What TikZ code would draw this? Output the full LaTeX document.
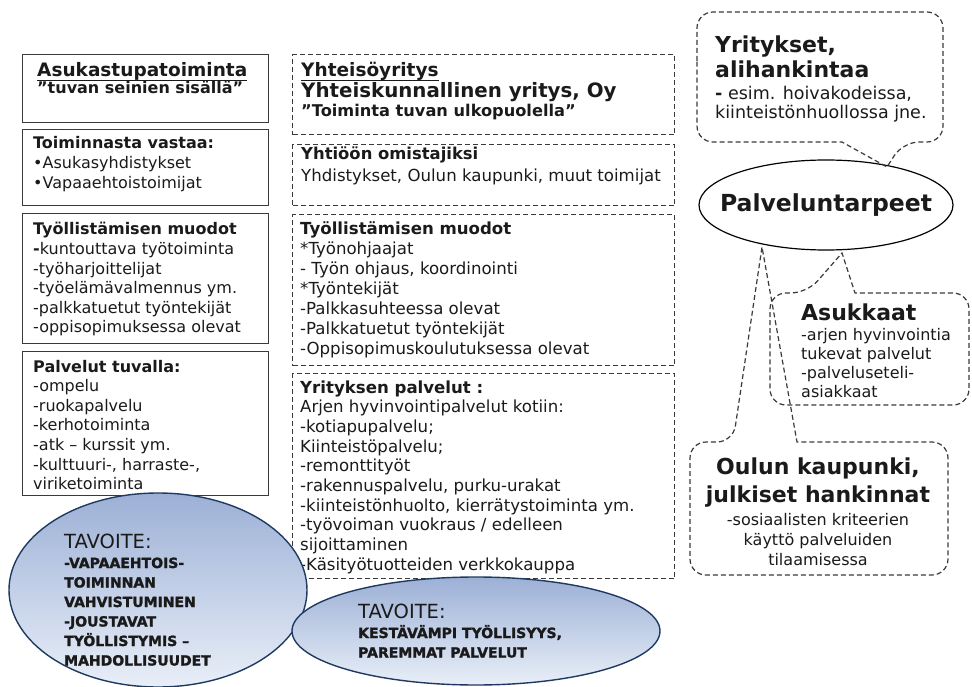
\documentclass[tikz,border=0pt]{standalone}
\usepackage{fontspec}
\setmainfont{DejaVu Sans}
\newfontfamily\heavyfont{DejaVu Sans}[BoldFeatures={FakeBold=1.6}]
\usetikzlibrary{shapes.geometric}

\definecolor{ink}{HTML}{1A1A1A}
\definecolor{boxline}{HTML}{3A3A3A}
\definecolor{navy}{HTML}{1F3A60}
\definecolor{goaltop}{HTML}{9CB0D6}
\definecolor{goalbot}{HTML}{E9EFF8}

\newcommand\sz[2]{\fontsize{#1}{#2}\selectfont}
\newcommand\ulinetext[1]{\setbox0=\hbox{#1}\rlap{\rule[-4pt]{\wd0}{1.4pt}}\box0}
% line stacks whose baseline is the baseline of their first line
\newcommand\stackL[1]{\vtop{\let\\\cr\halign{##\hfil\cr#1\crcr}}}
\newcommand\stackC[1]{\vtop{\let\\\cr\halign{\hfil##\hfil\cr#1\crcr}}}

\tikzset{
  txt/.style={inner sep=0pt, anchor=base west, text=ink, font=\sz{16}{19.6}},
  midtxt/.style={txt, font=\sz{16.6}{19.9}},
  solidbox/.style={draw=boxline, line width=1.3pt, inner sep=0pt, anchor=north west},
  dashbox/.style={draw=boxline, line width=1.2pt, dash pattern=on 5pt off 3pt, inner sep=0pt, anchor=north west},
  goal/.style={ellipse, draw=navy, line width=1.4pt, top color=goaltop, bottom color=goalbot, inner sep=0pt},
  goalhead/.style={inner sep=0pt, anchor=base west, text=ink, font=\sz{19.5}{23}},
  goaltext/.style={inner sep=0pt, anchor=base west, text=ink, font=\heavyfont\bfseries\sz{14}{19.5}},
  callout/.style={draw=boxline, line width=1.2pt, dash pattern=on 5pt off 3pt},
}

\begin{document}
\begin{tikzpicture}[x=1pt,y=-1pt]
\useasboundingbox (0,0) rectangle (972,687);

% ---------- left column: resident room activity ----------
\node[solidbox, minimum width=246pt, minimum height=68pt]  (lb1) at (22,54)  {};
\node[solidbox, minimum width=246pt, minimum height=76pt]  (lb2) at (22,129) {};
\node[solidbox, minimum width=246pt, minimum height=130pt] (lb3) at (22,213) {};
\node[solidbox, minimum width=246pt, minimum height=144pt] (lb4) at (22,351) {};

\node[txt, font=\bfseries\sz{18.5}{22}] (lt1a) at (37,77) {\ulinetext{Asukastupatoiminta}};
\node[txt, font=\bfseries\sz{16}{19}] (lt1b) at (37,94) {”tuvan seinien sisällä”};

\node[txt] (lt2) at (33,149) {\stackL{\textbf{Toiminnasta vastaa:}\\•Asukasyhdistykset\\•Vapaaehtoistoimijat}};

\node[txt] (lt3) at (33,235) {\stackL{\textbf{Työllistämisen muodot}\\\textbf{-}kuntouttava työtoiminta\\-työharjoittelijat\\-työelämävalmennus ym.\\-palkkatuetut työntekijät\\-oppisopimuksessa olevat}};

\node[txt] (lt4) at (33,372) {\stackL{\textbf{Palvelut tuvalla:}\\-ompelu\\-ruokapalvelu\\-kerhotoiminta\\-atk – kurssit ym.\\-kulttuuri-, harraste-,\\viriketoiminta}};

% ---------- middle column: community enterprise ----------
\node[dashbox, minimum width=382pt, minimum height=80pt]  (mb1) at (292,54)  {};
\node[dashbox, minimum width=382pt, minimum height=61pt]  (mb2) at (292,144) {};
\node[dashbox, minimum width=382pt, minimum height=151pt] (mb3) at (292,214) {};
\node[dashbox, minimum width=382pt, minimum height=205pt] (mb4) at (292,373) {};

\node[txt, font=\bfseries\sz{18.5}{22}] (mt1a) at (301,77) {\ulinetext{Yhteisöyritys}};
\node[txt, font=\bfseries\sz{19.8}{23}] (mt1b) at (301,98) {Yhteiskunnallinen yritys, Oy};
\node[txt, font=\bfseries\sz{16.2}{19}] (mt1c) at (301,117) {”Toiminta tuvan ulkopuolella”};

\node[txt, font=\bfseries\sz{16.4}{19}] (mt2a) at (301,160) {Yhtiöön omistajiksi};
\node[midtxt] (mt2b) at (301,182) {Yhdistykset, Oulun kaupunki, muut toimijat};

\node[midtxt] (mt3) at (300,235) {\stackL{\textbf{Työllistämisen muodot}\\*Työnohjaajat\\- Työn ohjaus, koordinointi\\*Työntekijät\\-Palkkasuhteessa olevat\\-Palkkatuetut työntekijät\\-Oppisopimuskoulutuksessa olevat}};

\node[midtxt, font=\sz{16.6}{19.67}] (mt4) at (300,393) {\stackL{\textbf{Yrityksen palvelut :}\\Arjen hyvinvointipalvelut kotiin:\\-kotiapupalvelu;\\Kiinteistöpalvelu;\\-remonttityöt\\-rakennuspalvelu, purku-urakat\\-kiinteistönhuolto, kierrätystoiminta ym.\\-työvoiman vuokraus / edelleen\\sijoittaminen\\-Käsityötuotteiden verkkokauppa}};

% ---------- goal ellipses ----------
\node[goal, minimum width=298pt, minimum height=194pt] (goalA) at (158,590) {};
\node[goalhead] (goalAhead) at (64,548) {TAVOITE:};
\node[goaltext] (goalAtext) at (64,568) {\stackL{-VAPAAEHTOIS-\\TOIMINNAN\\VAHVISTUMINEN\\-JOUSTAVAT\\TYÖLLISTYMIS –\\MAHDOLLISUUDET}};

\node[goal, minimum width=368pt, minimum height=108pt] (goalB) at (476,631) {};
\node[goalhead] (goalBhead) at (358,618) {TAVOITE:};
\node[goaltext] (goalBtext) at (358,638) {\stackL{KESTÄVÄMPI TYÖLLISYYS,\\PAREMMAT PALVELUT}};

% ---------- service needs and the speech bubbles ----------
\node[ellipse, draw=black, line width=1.2pt, fill=white, minimum width=254pt, minimum height=90pt,
      inner sep=0pt] (needs) at (826,205) {};
\node[inner sep=0pt, text=ink, font=\bfseries\sz{23.5}{28}] (needstext) at (needs.center) {Palveluntarpeet};

\coordinate (tipA) at (887,167);
\coordinate (tipB) at (842,253);
\coordinate (tipC) at (762,247);

\draw[callout] (697,77) [rounded corners=16pt] -- (697,12) -- (943,12) -- (943,142) -- (903,142)
  [sharp corners] -- (tipA) -- (842,142) [rounded corners=16pt] -- (697,142) -- cycle;
\node[txt, font=\bfseries\sz{22}{25}] (cA1) at (715,53) {\stackL{Yritykset,\\alihankintaa}};
\node[txt, font=\sz{17.5}{18.5}] (cA2) at (715,100) {\stackL{\textbf{-} esim. hoivakodeissa,\\kiinteistönhuollossa jne.}};

\draw[callout] (770,349) [rounded corners=16pt] -- (770,293) -- (807,293)
  [sharp corners] -- (tipB) -- (855,293) [rounded corners=16pt] -- (969,293) -- (969,405) -- (770,405) -- cycle;
\node[txt, font=\bfseries\sz{22}{25}] (cB1) at (801,320) {Asukkaat};
\node[txt, font=\sz{16}{19}] (cB2) at (801,340) {\stackL{-arjen hyvinvointia\\tukevat palvelut\\-palveluseteli-\\asiakkaat}};

\draw[callout] (690,508) [rounded corners=16pt] -- (690,442) -- (733,442)
  [sharp corners] -- (tipC) -- (797,442) [rounded corners=16pt] -- (948,442) -- (948,575) -- (690,575) -- cycle;
\node[txt, anchor=base, font=\bfseries\sz{22}{28}] (cC1) at (818,474) {\stackC{Oulun kaupunki,\\julkiset hankinnat}};
\node[txt, anchor=base, font=\sz{16}{20}] (cC2) at (818,525) {\stackC{-sosiaalisten kriteerien\\käyttö palveluiden\\tilaamisessa}};

\end{tikzpicture}
\end{document}
